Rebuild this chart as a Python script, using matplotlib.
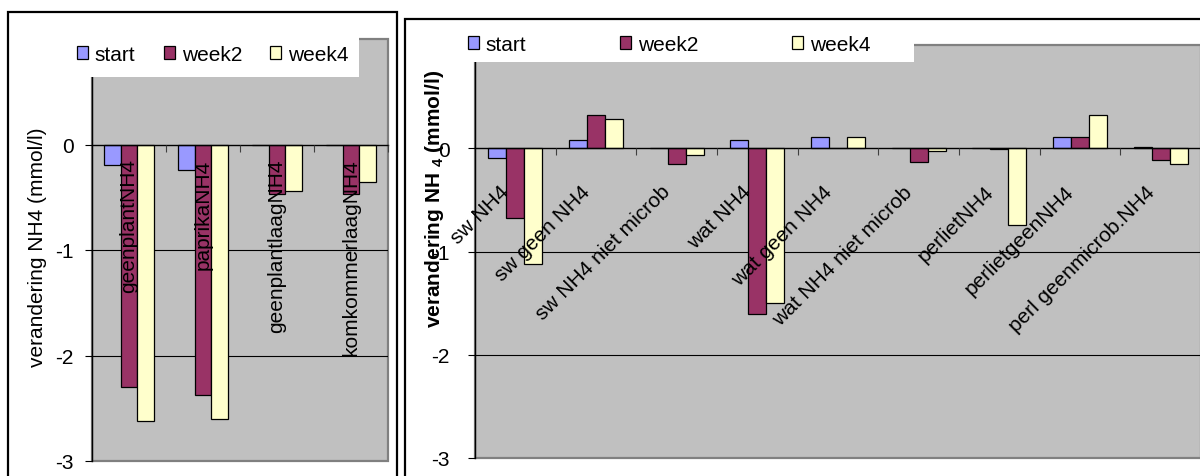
import matplotlib
matplotlib.use('Agg')
import matplotlib.pyplot as plt
from matplotlib.patches import Rectangle, Patch
from matplotlib.transforms import ScaledTranslation
import numpy as np

plt.rcParams['font.family'] = ['Liberation Sans', 'DejaVu Sans']
plt.rcParams['mathtext.fontset'] = 'custom'
plt.rcParams['mathtext.rm'] = 'Liberation Sans'
plt.rcParams['mathtext.bf'] = 'Liberation Sans:bold'
plt.rcParams['mathtext.it'] = 'Liberation Sans:italic'

# ---------------- data ----------------
series = ['start', 'week2', 'week4']
colors = ['#9999FF', '#993366', '#FFFFCC']

left_categories = ['geenplantNH4', 'paprikaNH4', 'geenplantlaagNH4', 'komkommerlaagNH4']
left_start = [-0.19, -0.24, 0.0, 0.0]
left_week2 = [-2.30, -2.37, -0.47, -0.47]
left_week4 = [-2.62, -2.60, -0.44, -0.36]

right_categories = ['sw NH4', 'sw geen NH4', 'sw NH4 niet microb', 'wat NH4',
                    'wat geen NH4', 'wat NH4 niet microb', 'perlietNH4',
                    'perlietgeenNH4', 'perl geenmicrob.NH4']
right_start = [-0.09, 0.08, 0.0, 0.08, 0.11, 0.0, 0.0, 0.11, 0.015]
right_week2 = [-0.68, 0.32, -0.15, -1.61, 0.0, -0.13, -0.012, 0.11, -0.11]
right_week4 = [-1.12, 0.28, -0.065, -1.50, 0.11, -0.03, -0.74, 0.32, -0.15]

y_ticks = [0, -1, -2, -3]
y_range = (-3, 1)

left_ylabel = 'verandering NH4 (mmol/l)'
right_ylabel = r'verandering NH $_{\mathbf{4}}$ (mmol/l)'

# ---------------- layout helpers ----------------
W, H = 1200, 477
fig = plt.figure(figsize=(W / 100, H / 100), dpi=100)
fig.patch.set_facecolor('white')


def fx(x):
    return x / W


def fy(y):
    return 1 - y / H


def frame(x0, y0, x1, y1, **kw):
    r = Rectangle((fx(x0), fy(y1)), fx(x1) - fx(x0), fy(y0) - fy(y1),
                  transform=fig.transFigure, **kw)
    fig.patches.append(r)
    return r


# outer chart frames
frame(8, 13, 397, 500, fill=False, ec='black', lw=1.6, zorder=0)
frame(405, 20, 1230, 500, fill=False, ec='black', lw=1.6, zorder=0)

axL = fig.add_axes([fx(92), fy(462), fx(388) - fx(92), fy(40) - fy(462)])
axR = fig.add_axes([fx(475), fy(459), fx(1201) - fx(475), fy(46) - fy(459)])


def draw(ax, cats, vals):
    x = np.arange(len(cats))
    w = 1 / 4.5
    for j, (v, c, name) in enumerate(zip(vals, colors, series)):
        ax.bar(x + (j - 1) * w, v, w, color=c, edgecolor='black', lw=0.9,
               label=name, zorder=2)
    ax.set_xlim(-0.5, len(cats) - 0.5)
    ax.set_ylim(*y_range)
    ax.set_facecolor('#C0C0C0')
    ax.patch.set_edgecolor('#808080')
    ax.patch.set_linewidth(1.6)
    ax.set_axisbelow(False)
    ax.set_yticks(y_ticks)
    ax.set_yticklabels([str(t) for t in y_ticks])
    for t in y_ticks[1:-1]:
        ax.axhline(t, color='black', lw=0.8, zorder=1)
    ax.spines['top'].set_visible(False)
    ax.spines['right'].set_visible(False)
    ax.spines['left'].set_color('black')
    ax.spines['left'].set_linewidth(1.0)
    ax.spines['bottom'].set_position(('data', 0))
    ax.spines['bottom'].set_color('black')
    ax.spines['bottom'].set_linewidth(1.0)
    ax.set_xticks(x + 0.5)
    ax.set_xticklabels([])
    ax.set_xticks(x, minor=True)
    ax.set_xticklabels(cats, minor=True)
    ax.tick_params(axis='x', which='major', direction='out', length=5,
                   width=0.8, color='#404040')
    ax.tick_params(axis='y', which='major', direction='out', length=5,
                   width=0.8, labelsize=15)


draw(axL, left_categories, [left_start, left_week2, left_week4])
draw(axR, right_categories, [right_start, right_week2, right_week4])

# left chart labels
axL.tick_params(axis='y', pad=8)
axL.tick_params(axis='x', which='minor', length=0, pad=10, labelsize=15)
for lab in axL.get_xticklabels(minor=True):
    lab.set_rotation(90)
    lab.set_ha('center')
    lab.set_va('top')
axL.set_ylabel(left_ylabel, fontsize=15)
axL.yaxis.set_label_coords(-0.152, 0.51)

# right chart labels
axR.tick_params(axis='y', pad=13)
axR.tick_params(axis='x', which='minor', length=0, pad=29, labelsize=15)
for lab in axR.get_xticklabels(minor=True):
    lab.set_rotation(45)
    lab.set_ha('right')
    lab.set_va('center')
    lab.set_rotation_mode('anchor')
    lab.set_transform(lab.get_transform() +
                      ScaledTranslation(-0.09, 0, fig.dpi_scale_trans))
axR.set_ylabel(right_ylabel, fontsize=15, fontweight='bold')
axR.yaxis.set_label_coords(-0.04, 0.63)

# legends with white boxes covering the plot area
frame(60, 30, 359, 78, fc='white', ec='none', zorder=5)
frame(455, 26, 914, 63, fc='white', ec='none', zorder=5)

handles = [Patch(facecolor=c, edgecolor='black', lw=0.9) for c in colors]
legL = fig.legend(handles, series, loc='center left',
                  bbox_to_anchor=(fx(77), fy(55.5)), ncol=3, frameon=False,
                  fontsize=15, handlelength=0.53, handleheight=0.53,
                  handletextpad=0.33, columnspacing=1.35, borderpad=0,
                  borderaxespad=0)
legL.set_zorder(6)
legR = fig.legend(handles, series, loc='center left',
                  bbox_to_anchor=(fx(468), fy(45.5)), ncol=3, frameon=False,
                  fontsize=15, handlelength=0.53, handleheight=0.53,
                  handletextpad=0.33, columnspacing=4.5, borderpad=0,
                  borderaxespad=0)
legR.set_zorder(6)

fig.savefig('out.png', dpi=100)
